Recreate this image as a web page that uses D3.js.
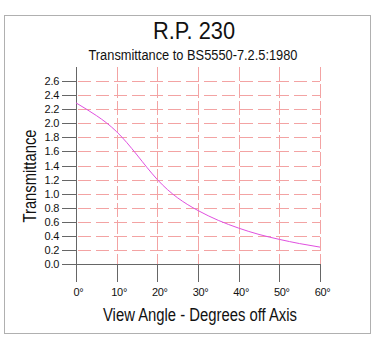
<!DOCTYPE html>
<html><head><meta charset="utf-8">
<script src="https://cdn.jsdelivr.net/npm/d3@7"></script>
<style>
html,body{margin:0;padding:0;background:#fff;}
text{font-family:"Liberation Sans",Arial,sans-serif;fill:#111;}
</style></head>
<body>
<svg id="c" width="380" height="354"></svg>
<script>
const title = "R.P. 230";
const subtitle = "Transmittance to BS5550-7.2.5:1980";
const xTitle = "View Angle - Degrees off Axis";
const yTitle = "Transmittance";
const angles = [0,5,10,15,20,25,30,35,40,45,50,55,60];
const transmittance = [2.29,2.11,1.88,1.55,1.20,0.94,0.76,0.62,0.51,0.42,0.35,0.29,0.24];
const xTicks = [0,10,20,30,40,50,60];
const yTicks = [0,0.2,0.4,0.6,0.8,1.0,1.2,1.4,1.6,1.8,2.0,2.2,2.4,2.6];

const svg = d3.select("#c");
svg.append("rect").attr("x",4.5).attr("y",15.5).attr("width",366).attr("height",318)
  .attr("fill","none").attr("stroke","#b0b0b0");

const x = d3.scaleLinear().domain([0,60]).range([76,320]);
const y = d3.scaleLinear().domain([0,2.8]).range([264,67]);
const gridC = "#f3a3a3", axC = "#666";

// horizontal dashed grid
svg.append("g").selectAll("line").data(yTicks.filter(d=>d>0)).join("line")
  .attr("x1",x(0)).attr("x2",x(60)).attr("y1",d=>Math.round(y(d))+0.5).attr("y2",d=>Math.round(y(d))+0.5)
  .attr("stroke",gridC).attr("stroke-dasharray","13,5").attr("stroke-dashoffset",-2);
// vertical grid (red in plot)
svg.append("g").selectAll("line").data(xTicks.filter(d=>d>0)).join("line")
  .attr("x1",d=>Math.round(x(d))+0.5).attr("x2",d=>Math.round(x(d))+0.5)
  .attr("y1",y(2.8)).attr("y2",y(0))
  .attr("stroke",gridC).attr("stroke-dasharray","14,3");
// gray tick extensions below x axis
svg.append("g").selectAll("line").data(xTicks).join("line")
  .attr("x1",d=>Math.round(x(d))+0.5).attr("x2",d=>Math.round(x(d))+0.5)
  .attr("y1",y(0)).attr("y2",282).attr("stroke",axC);
// y axis line
svg.append("line").attr("x1",x(0)+0.5).attr("x2",x(0)+0.5).attr("y1",y(2.8)).attr("y2",y(0))
  .attr("stroke",axC);
// y ticks
svg.append("g").selectAll("line").data(yTicks).join("line")
  .attr("x1",62).attr("x2",x(0)).attr("y1",d=>Math.round(y(d))+0.5).attr("y2",d=>Math.round(y(d))+0.5)
  .attr("stroke",axC);
// x axis line
svg.append("line").attr("x1",62).attr("x2",x(60)).attr("y1",Math.round(y(0))+0.5).attr("y2",Math.round(y(0))+0.5)
  .attr("stroke",axC);

// y labels
svg.append("g").selectAll("text").data(yTicks).join("text")
  .attr("x",59).attr("y",d=>y(d)+4).attr("text-anchor","end")
  .attr("font-size",11).attr("letter-spacing",-0.3).text(d=>d.toFixed(1));
// x labels
svg.append("g").selectAll("text").data(xTicks).join("text")
  .attr("x",d=>x(d)+2.5).attr("y",296).attr("text-anchor","middle")
  .attr("font-size",11).attr("letter-spacing",-0.3).text(d=>d+"°");

// curve
const line = d3.line().x((d,i)=>x(angles[i])).y(d=>y(d)).curve(d3.curveNatural);
svg.append("path").datum(transmittance).attr("d",line).attr("fill","none")
  .attr("stroke","#e050e0").attr("stroke-width",1);

// titles
svg.append("text").attr("x",194).attr("y",39).attr("text-anchor","middle")
  .attr("font-size",23).attr("textLength",82).attr("lengthAdjust","spacingAndGlyphs").text(title);
svg.append("text").attr("x",193).attr("y",60).attr("text-anchor","middle")
  .attr("font-size",14).attr("textLength",209).attr("lengthAdjust","spacingAndGlyphs").text(subtitle);
svg.append("text").attr("x",200).attr("y",321).attr("text-anchor","middle")
  .attr("font-size",18).attr("textLength",194).attr("lengthAdjust","spacingAndGlyphs").text(xTitle);
svg.append("text").attr("transform","translate(36,176) rotate(-90)").attr("text-anchor","middle")
  .attr("font-size",17.5).attr("textLength",93).attr("lengthAdjust","spacingAndGlyphs").text(yTitle);
</script>
</body></html>
